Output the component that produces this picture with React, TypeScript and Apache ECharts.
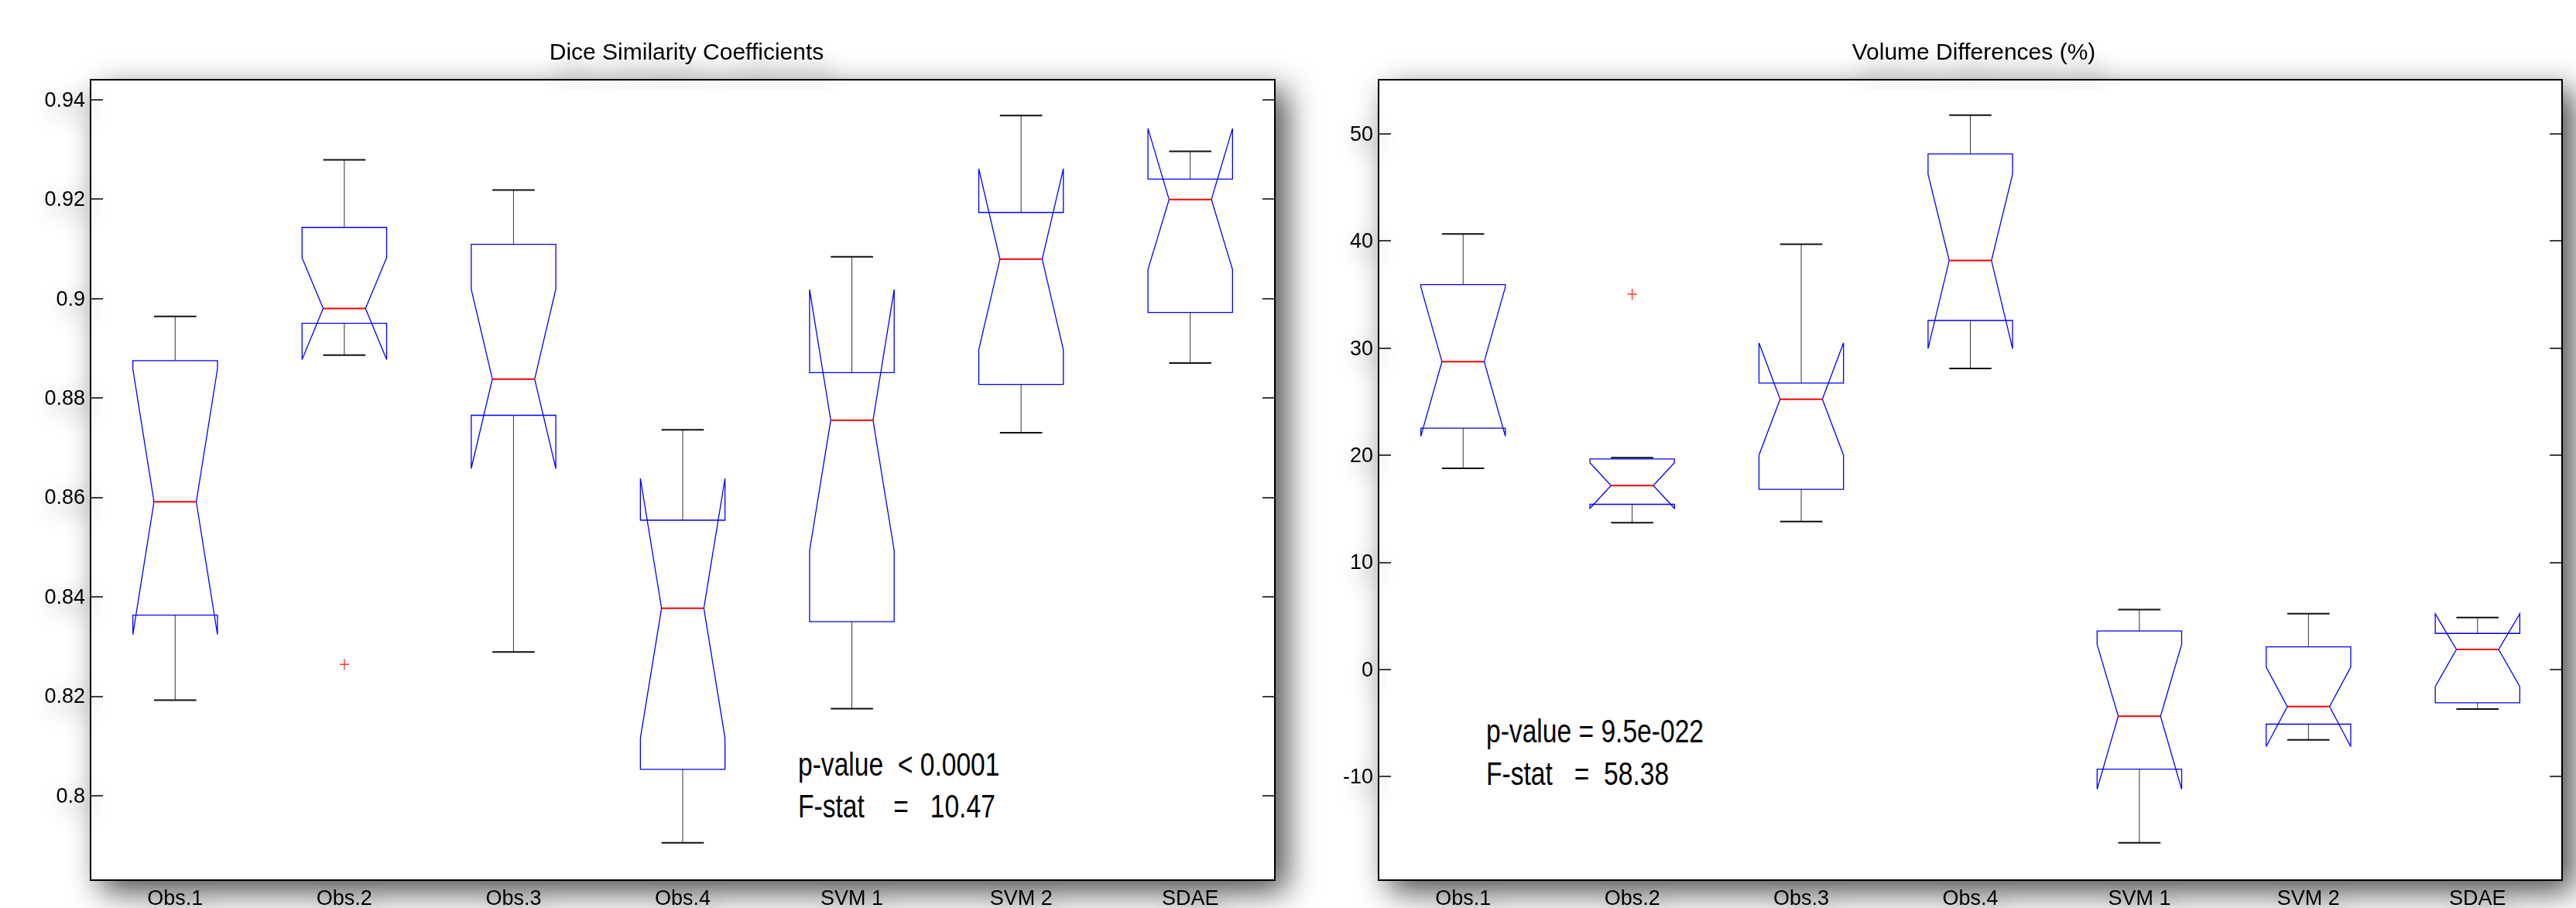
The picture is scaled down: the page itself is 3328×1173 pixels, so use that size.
import React, { useEffect, useRef } from 'react';
import * as echarts from 'echarts';

const categories = ['Obs.1', 'Obs.2', 'Obs.3', 'Obs.4', 'SVM 1', 'SVM 2', 'SDAE'];

// Dice Similarity Coefficients (per category)
const diceWhiskerLow = [0.8192, 0.8886, 0.8289, 0.7905, 0.8175, 0.8730, 0.8870];
const diceQ1 = [0.8363, 0.8950, 0.8765, 0.8053, 0.8350, 0.8827, 0.8972];
const diceNotchLow = [0.8324, 0.8877, 0.8658, 0.8116, 0.8493, 0.8897, 0.9058];
const diceMedian = [0.8591, 0.8980, 0.8838, 0.8377, 0.8755, 0.9079, 0.9199];
const diceNotchHigh = [0.8858, 0.9082, 0.9019, 0.8638, 0.9018, 0.9261, 0.9342];
const diceQ3 = [0.8875, 0.9143, 0.9109, 0.8554, 0.8851, 0.9173, 0.9240];
const diceWhiskerHigh = [0.8964, 0.9279, 0.9218, 0.8736, 0.9084, 0.9368, 0.9296];
const diceOutlierCats = ['Obs.2'];
const diceOutlierValues = [0.8264];
const diceTicks = [0.8, 0.82, 0.84, 0.86, 0.88, 0.9, 0.92, 0.94];

// Volume Differences (%)
const volWhiskerLow = [18.77, 13.69, 13.8, 28.09, -16.18, -6.58, -3.71];
const volQ1 = [22.51, 15.41, 16.81, 32.57, -9.31, -5.11, -3.11];
const volNotchLow = [21.76, 15.03, 20.0, 29.94, -11.18, -7.21, -1.61];
const volMedian = [28.73, 17.16, 25.22, 38.16, -4.37, -3.47, 1.86];
const volNotchHigh = [35.7, 19.29, 30.47, 46.23, 2.33, 0.22, 5.2];
const volQ3 = [35.92, 19.65, 26.73, 48.11, 3.58, 2.1, 3.36];
const volWhiskerHigh = [40.64, 19.76, 39.68, 51.73, 5.58, 5.2, 4.84];
const volOutlierCats = ['Obs.2'];
const volOutlierValues = [35.03];
const volTicks = [-10, 0, 10, 20, 30, 40, 50];

const titles = ['Dice Similarity Coefficients', 'Volume Differences (%)'];
const diceStats = ['p-value  < 0.0001', 'F-stat    =   10.47'];
const volStats = ['p-value = 9.5e-022', 'F-stat   =  58.38'];

const NARROW = "'Liberation Sans Narrow', 'Arial Narrow', 'Liberation Sans', Arial, sans-serif";
const SANS = "'Liberation Sans', Arial, sans-serif";

function boxRows(wl: number[], q1: number[], nl: number[], med: number[], nh: number[], q3: number[], wh: number[]) {
  return categories.map((_, i) => [i, wl[i], q1[i], nl[i], med[i], nh[i], q3[i], wh[i]]);
}

function renderBox(params: any, api: any) {
  const i = api.value(0);
  const wl = api.value(1), q1 = api.value(2), nl = api.value(3), med = api.value(4);
  const nh = api.value(5), q3 = api.value(6), wh = api.value(7);
  const band = api.size([1, 0])[0];
  const half = band * 0.25;
  const quarter = band * 0.125;
  const x = api.coord([i, med])[0];
  const y = (v: number) => api.coord([i, v])[1];
  const pts = [
    [x - half, y(q1)], [x - half, y(nl)], [x - quarter, y(med)], [x - half, y(nh)], [x - half, y(q3)],
    [x + half, y(q3)], [x + half, y(nh)], [x + quarter, y(med)], [x + half, y(nl)], [x + half, y(q1)],
  ];
  const wStyle = { stroke: '#333', lineWidth: 1 };
  const cStyle = { stroke: '#111', lineWidth: 2 };
  return {
    type: 'group',
    children: [
      { type: 'line', shape: { x1: x, y1: y(q3), x2: x, y2: y(wh) }, style: wStyle },
      { type: 'line', shape: { x1: x, y1: y(q1), x2: x, y2: y(wl) }, style: wStyle },
      { type: 'line', shape: { x1: x - quarter, y1: y(wh), x2: x + quarter, y2: y(wh) }, style: cStyle },
      { type: 'line', shape: { x1: x - quarter, y1: y(wl), x2: x + quarter, y2: y(wl) }, style: cStyle },
      { type: 'polygon', shape: { points: pts }, style: { fill: 'none', stroke: '#0000ff', lineWidth: 1.3 } },
      { type: 'line', shape: { x1: x - quarter, y1: y(med), x2: x + quarter, y2: y(med) }, style: { stroke: '#ff0000', lineWidth: 2 } },
    ],
  };
}

const grids = [
  { left: 117, top: 103, width: 1530, height: 1034 },
  { left: 1781, top: 103, width: 1529, height: 1034 },
];

function makeOption() {
  const gridOpts = grids.map((g) => ({
    show: true,
    ...g,
    backgroundColor: '#ffffff',
    borderColor: '#000',
    borderWidth: 2,
    shadowBlur: 40,
    shadowColor: 'rgba(0,0,0,0.7)',
    shadowOffsetX: 14,
    shadowOffsetY: 14,
  }));

  const labelShadow = {
    textShadowColor: 'rgba(0,0,0,0.45)',
    textShadowBlur: 30,
    textShadowOffsetX: 8,
    textShadowOffsetY: 10,
  };

  const xAxes: any[] = [];
  const yAxes: any[] = [];
  const ranges = [
    { min: 0.783, max: 0.944, ticks: diceTicks, fmt: (v: number) => String(+v.toFixed(2)) },
    { min: -19.67, max: 55.04, ticks: volTicks, fmt: (v: number) => String(+v.toFixed(0)) },
  ];
  [0, 1].forEach((gi) => {
    xAxes.push({
      gridIndex: gi, type: 'category', data: categories, position: 'bottom',
      axisLine: { show: true, onZero: false, lineStyle: { color: '#000', width: 2 } },
      axisTick: { inside: true, alignWithLabel: true, length: 20, lineStyle: { color: '#000', width: 1 } },
      axisLabel: { color: '#000', fontFamily: NARROW, fontSize: 27, margin: 9, ...labelShadow },
    });
    xAxes.push({
      gridIndex: gi, type: 'category', data: categories, position: 'top',
      axisLine: { show: true, onZero: false, lineStyle: { color: '#000', width: 2 } },
      axisTick: { inside: true, alignWithLabel: true, length: 20, lineStyle: { color: '#000', width: 1 } },
      axisLabel: { show: false },
    });
    const r = ranges[gi];
    yAxes.push({
      gridIndex: gi, type: 'value', min: r.min, max: r.max, position: 'left',
      splitLine: { show: false },
      axisLine: { show: true, onZero: false, lineStyle: { color: '#000', width: 2 } },
      axisTick: { show: true, inside: true, length: 16, customValues: r.ticks, lineStyle: { color: '#000', width: 1.5 } },
      axisLabel: { customValues: r.ticks, formatter: r.fmt, color: '#000', fontFamily: NARROW, fontSize: 27, margin: 7, ...labelShadow },
    });
    yAxes.push({
      gridIndex: gi, type: 'value', min: r.min, max: r.max, position: 'right',
      splitLine: { show: false },
      axisLine: { show: true, onZero: false, lineStyle: { color: '#000', width: 2 } },
      axisTick: { show: true, inside: true, length: 16, customValues: r.ticks, lineStyle: { color: '#000', width: 1.5 } },
      axisLabel: { show: false },
    });
  });

  const plusSymbol = 'path://M6,0L6,14M0,7L12,7';

  const series: any[] = [
    {
      type: 'custom', name: 'Dice', xAxisIndex: 0, yAxisIndex: 0,
      renderItem: renderBox,
      encode: { x: 0, y: [1, 2, 3, 4, 5, 6, 7] },
      data: boxRows(diceWhiskerLow, diceQ1, diceNotchLow, diceMedian, diceNotchHigh, diceQ3, diceWhiskerHigh),
      clip: false,
    },
    {
      type: 'scatter', name: 'Dice outliers', xAxisIndex: 0, yAxisIndex: 0,
      symbol: plusSymbol, symbolSize: [12, 14],
      itemStyle: { color: 'rgba(0,0,0,0)', borderColor: '#ff0000', borderWidth: 1.5 },
      data: diceOutlierCats.map((c, i) => [c, diceOutlierValues[i]]),
    },
    {
      type: 'custom', name: 'Volume', xAxisIndex: 2, yAxisIndex: 2,
      renderItem: renderBox,
      encode: { x: 0, y: [1, 2, 3, 4, 5, 6, 7] },
      data: boxRows(volWhiskerLow, volQ1, volNotchLow, volMedian, volNotchHigh, volQ3, volWhiskerHigh),
      clip: false,
    },
    {
      type: 'scatter', name: 'Volume outliers', xAxisIndex: 2, yAxisIndex: 2,
      symbol: plusSymbol, symbolSize: [12, 14],
      itemStyle: { color: 'rgba(0,0,0,0)', borderColor: '#ff0000', borderWidth: 1.5 },
      data: volOutlierCats.map((c, i) => [c, volOutlierValues[i]]),
    },
  ];

  const titleShadow = {
    textShadowColor: 'rgba(0,0,0,0.4)',
    textShadowBlur: 28,
    textShadowOffsetX: 10,
    textShadowOffsetY: 24,
  };

  const statText = (text: string, x: number, y: number) => ({
    type: 'text', x, y, scaleX: 0.8, z: 100,
    style: {
      text, fill: '#000', fontFamily: SANS, fontSize: 42,
      textVerticalAlign: 'middle', textAlign: 'left',
    },
  });

  return {
    animation: false,
    backgroundColor: '#ffffff',
    grid: gridOpts,
    title: [
      { text: titles[0], left: 882, top: 46, textAlign: 'center', textStyle: { fontFamily: SANS, fontSize: 30, fontWeight: 'normal', color: '#000', ...titleShadow } },
      { text: titles[1], left: 2545, top: 46, textAlign: 'center', textStyle: { fontFamily: SANS, fontSize: 30, fontWeight: 'normal', color: '#000', ...titleShadow } },
    ],
    xAxis: xAxes,
    yAxis: yAxes,
    series,
    graphic: [
      statText(diceStats[0], 1031, 988),
      statText(diceStats[1], 1031, 1042),
      statText(volStats[0], 1920, 945),
      statText(volStats[1], 1920, 1000),
    ],
  };
}

export default function App() {
  const ref = useRef<HTMLDivElement>(null);
  useEffect(() => {
    const chart = echarts.init(ref.current!, null, { renderer: 'svg' });
    chart.setOption(makeOption() as any);
    return () => chart.dispose();
  }, []);
  return (
    <div
      ref={ref}
      style={{ position: 'fixed', left: 0, top: 0, width: 3328, height: 1173, background: '#ffffff' }}
    />
  );
}
